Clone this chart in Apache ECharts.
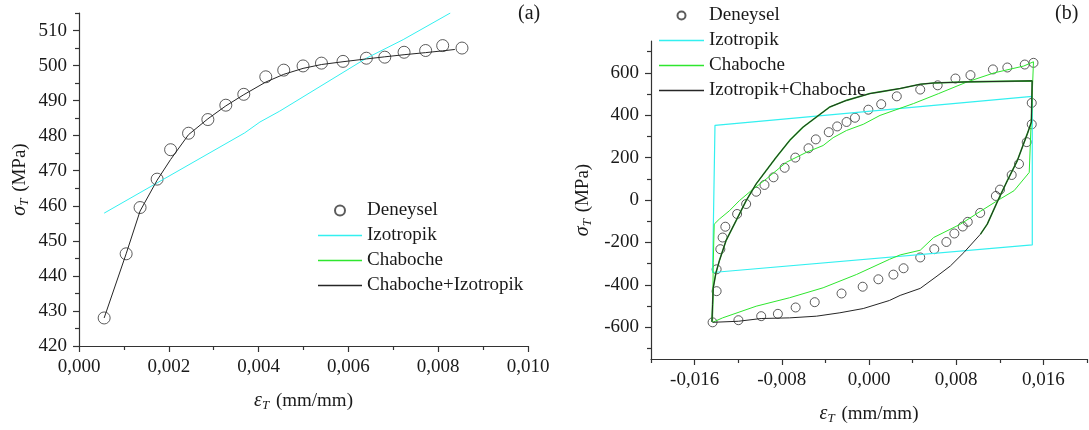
<!DOCTYPE html>
<html>
<head>
<meta charset="utf-8">
<script src="https://cdn.jsdelivr.net/npm/echarts@6/dist/echarts.min.js"></script>
<style>
  html, body { margin: 0; padding: 0; background: #fff; }
  #chart { width: 1089px; height: 430px; }
</style>
</head>
<body>
<div id="chart"></div>
<script>
// ---- (a) monotonic tension ----
const aExpStrain = [0.00056, 0.00105, 0.00136, 0.00174, 0.00204, 0.00244, 0.00287, 0.00327, 0.00367, 0.00416,
  0.00456, 0.00499, 0.0054, 0.00588, 0.0064, 0.00681, 0.00724, 0.00772, 0.0081, 0.00853];
const aExpStress = [428, 446.3, 459.5, 467.6, 476.0, 480.7, 484.6, 488.7, 491.8, 496.8,
  498.7, 499.9, 500.7, 501.2, 502.1, 502.4, 503.8, 504.3, 505.7, 505.0];

const aIsoStrain = [0.00056, 0.00369, 0.00403, 0.00447, 0.0064, 0.00722, 0.00827];
const aIsoStress = [457.9, 480.8, 483.9, 487, 502.1, 507.4, 515];

const aCombStrain = [0.00056, 0.00105, 0.00136, 0.00174, 0.00204, 0.00244, 0.00287, 0.00327, 0.00367, 0.00416,
  0.00456, 0.00499, 0.0054, 0.00588, 0.0064, 0.00681, 0.00724, 0.00772, 0.0081, 0.00837];
const aCombStress = [428, 446.3, 458.5, 467.3, 473.2, 480.3, 484.8, 488.5, 491.7, 495.3,
  497.5, 499.2, 500.3, 501.1, 501.9, 502.5, 503.1, 503.7, 504.2, 504.6];

const aXTicks = [0, 0.002, 0.004, 0.006, 0.008, 0.010];
const aXMinor = [0.001, 0.003, 0.005, 0.007, 0.009];
const aYTicks = [420, 430, 440, 450, 460, 470, 480, 490, 500, 510];
const aYMinor = [425, 435, 445, 455, 465, 475, 485, 495, 505, 515];

// ---- (b) cyclic loop ----
const bExpStrain = [-0.01435, -0.01398, -0.01398, -0.01364, -0.01343, -0.01318, -0.0121, -0.01127, -0.01035, -0.00959,
  -0.00876, -0.00774, -0.00676, -0.00555, -0.00488, -0.00369, -0.00292, -0.00206, -0.00129, -0.00006,
  0.00112, 0.00255, 0.0047, 0.0063, 0.00793, 0.00931, 0.01137, 0.01269, 0.01429, 0.01509,
  0.01493, 0.01493, 0.01447, 0.01376, 0.01309, 0.01202, 0.01164, 0.0102, 0.00906, 0.0086,
  0.00783, 0.0071, 0.00599, 0.0047, 0.00317, 0.00224, 0.00086, -0.00058, -0.00252, -0.00498,
  -0.00673, -0.00836, -0.00989, -0.01198];
const bExpStress = [-577, -430, -327, -232, -177, -126, -66, -19, 39, 71,
  107, 152, 200, 244, 286, 320, 347, 368, 388, 426,
  452, 489, 521, 541, 573, 589, 616, 625, 639, 647,
  458, 357, 273, 170, 118, 49, 19, -61, -103, -125,
  -158, -198, -232, -271, -322, -352, -374, -409, -441, -482,
  -507, -537, -548, -567];

const bIsoStrain = [-0.01435, -0.01413, 0.01498, 0.01498, -0.01435];
const bIsoStress = [-342, 352, 489, -212, -342];

const bChabStrain = [-0.01435, -0.01429, -0.0142, -0.01373, -0.01281, -0.01189, -0.01081, -0.00943, -0.00758, -0.00574,
  -0.00421, -0.00329, -0.00206, -0.00053, 0.00101, 0.00409, 0.00639, 0.009, 0.0115, 0.0142,
  0.01509, 0.0147, 0.01331, 0.01178, 0.01023, 0.00839, 0.00593, 0.0047, 0.00286, 0.00187,
  -0.00113, -0.00421, -0.00728, -0.01035, -0.01343, -0.01435];
const bChabStress = [-572, -296, -114, -90, -51, -3, 44, 99, 178, 225,
  257, 294, 328, 357, 399, 455, 502, 557, 600, 632,
  652, 130, 44, -3, -53, -114, -177, -237, -259, -280,
  -351, -414, -461, -501, -556, -577];

const bCombStrain = [-0.01435, -0.01198, -0.00989, -0.00728, -0.00482, -0.00267, -0.00053, 0.00187, 0.00286, 0.0047,
  0.00624, 0.00747, 0.0087, 0.01023, 0.01085, 0.01182, 0.01269, 0.01361, 0.01453, 0.0149,
  0.01497, 0.009, 0.00593, 0.0047, 0.00286, 0.00101, 0.00009, -0.00206, -0.00359, -0.00605,
  -0.00728, -0.00851, -0.00943, -0.01035, -0.01127, -0.01219, -0.01312, -0.01373, -0.01404, -0.01429,
  -0.01435, -0.01441];
const bCombStress = [-577, -572, -559, -556, -548, -532, -512, -474, -450, -417,
  -359, -311, -248, -161, -114, -3, 91, 186, 313, 368,
  562, 557, 552, 546, 526, 510, 502, 470, 439, 344,
  281, 202, 139, 76, -3, -97, -192, -287, -343, -414,
  -493, -575];
// the Chaboche curve runs under the combined one from this point on
const bOverlapFrom = 13;

const bXTicks = [-0.016, -0.008, 0, 0.008, 0.016];
const bXMinor = [-0.020, -0.012, -0.004, 0.004, 0.012, 0.020];
const bYTicks = [-600, -400, -200, 0, 200, 400, 600];
const bYMinor = [-700, -500, -300, -100, 100, 300, 500, 700];

const zip = (xs, ys) => xs.map((x, i) => [x, ys[i]]);

const FONT = 'Liberation Serif';
const INK = '#1a1a1a';
const AXIS = '#333';
const CYAN = '#33f0f0';
const GREEN = '#2ee62e';
const BLACK = '#262626';
const LINE_ICON = 'path://M0,0H44V1.6H0Z';

const comma = v => v.toFixed(3).replace('.', ',');

const nameRich = {
  g: { fontFamily: FONT, fontStyle: 'italic', fontSize: 20, color: INK },
  s: { fontFamily: FONT, fontStyle: 'italic', fontSize: 13, color: INK, verticalAlign: 'bottom', padding: [9, 2, 0, 0] },
  t: { fontFamily: FONT, fontSize: 19, color: INK }
};

function mainAxis(grid, min, max, ticks, fmt, pos, extra) {
  return Object.assign({
    type: 'value', gridIndex: grid, min: min, max: max, position: pos,
    nameMoveOverlap: false,
    axisLine: { show: true, onZero: false, lineStyle: { color: AXIS, width: 1.2 } },
    axisTick: { show: true, length: 6, customValues: ticks, lineStyle: { color: AXIS, width: 1.2 } },
    axisLabel: { customValues: ticks, formatter: fmt, fontFamily: FONT, fontSize: 19, color: INK, margin: 12 },
    splitLine: { show: false }
  }, extra);
}

function minorAxis(grid, min, max, ticks, pos) {
  return {
    type: 'value', gridIndex: grid, min: min, max: max, position: pos,
    axisLine: { show: false, onZero: false },
    axisTick: { show: true, length: 4, customValues: ticks, lineStyle: { color: AXIS, width: 1.2 } },
    axisLabel: { show: false },
    splitLine: { show: false }
  };
}

function legendItems(names) {
  return names.map((n, i) => i === 0 ? { name: n } : { name: n, icon: LINE_ICON });
}

const chart = echarts.init(document.getElementById('chart'));

const option = {
  animation: false,
  backgroundColor: '#fff',
  grid: [
    { left: 79, top: 13, width: 449, height: 333, containLabel: false, outerBoundsMode: 'none' },
    { left: 651, top: 41, width: 436, height: 318, containLabel: false, outerBoundsMode: 'none' }
  ],
  xAxis: [
    mainAxis(0, 0, 0.010, aXTicks, comma, 'bottom', {
      name: '{g|ε}{s|T}{t| (mm/mm)}', nameLocation: 'middle', nameGap: 44,
      nameTextStyle: { rich: nameRich }
    }),
    minorAxis(0, 0, 0.010, aXMinor, 'bottom'),
    mainAxis(1, -0.020, 0.020, bXTicks, comma, 'bottom', {
      name: '{g|ε}{s|T}{t| (mm/mm)}', nameLocation: 'middle', nameGap: 44,
      nameTextStyle: { rich: nameRich }
    }),
    minorAxis(1, -0.020, 0.020, bXMinor, 'bottom')
  ],
  yAxis: [
    mainAxis(0, 420, 515, aYTicks, v => String(v), 'left', {
      name: '{g|σ}{s|T}{t| (MPa)}', nameLocation: 'middle', nameGap: 48, nameRotate: 90,
      nameTextStyle: { rich: nameRich }
    }),
    minorAxis(0, 420, 515, aYMinor, 'left'),
    mainAxis(1, -750, 750, bYTicks, v => String(v), 'left', {
      name: '{g|σ}{s|T}{t| (MPa)}', nameLocation: 'middle', nameGap: 57, nameRotate: 90,
      nameTextStyle: { rich: nameRich }
    }),
    minorAxis(1, -750, 750, bYMinor, 'left')
  ],
  legend: [
    {
      orient: 'vertical', left: 313, top: 196, itemWidth: 44, itemHeight: 10, itemGap: 6,
      data: legendItems(['Deneysel', 'Izotropik', 'Chaboche', 'Chaboche+Izotropik']),
      textStyle: { fontFamily: FONT, fontSize: 19, color: INK }
    },
    {
      orient: 'vertical', left: 654, top: 1, itemWidth: 45, itemHeight: 8, itemGap: 6,
      data: legendItems(['Deneysel', 'Izotropik', 'Chaboche', 'Izotropik+Chaboche']),
      textStyle: { fontFamily: FONT, fontSize: 19, color: INK }
    }
  ],
  graphic: [
    { type: 'text', left: 518, top: 4, style: { text: '(a)', font: '20px "Liberation Serif"', fill: INK } },
    { type: 'text', left: 1055, top: 4, style: { text: '(b)', font: '20px "Liberation Serif"', fill: INK } }
  ],
  series: [
    // (a)
    { name: 'Izotropik', type: 'line', xAxisIndex: 0, yAxisIndex: 0, symbol: 'none',
      data: zip(aIsoStrain, aIsoStress), lineStyle: { color: CYAN, width: 1 }, itemStyle: { color: CYAN } },
    { name: 'Chaboche+Izotropik', type: 'line', xAxisIndex: 0, yAxisIndex: 0, symbol: 'none',
      data: zip(aCombStrain, aCombStress), lineStyle: { color: BLACK, width: 1 }, itemStyle: { color: BLACK } },
    { name: 'Deneysel', type: 'scatter', xAxisIndex: 0, yAxisIndex: 0, symbol: 'circle', symbolSize: 12,
      data: zip(aExpStrain, aExpStress),
      itemStyle: { color: 'none', borderColor: '#333', borderWidth: 1 } },
    // (b)
    { name: 'Izotropik', type: 'line', xAxisIndex: 2, yAxisIndex: 2, symbol: 'none',
      data: zip(bIsoStrain, bIsoStress), lineStyle: { color: CYAN, width: 1.2 }, itemStyle: { color: CYAN } },
    { name: 'Chaboche', type: 'line', xAxisIndex: 2, yAxisIndex: 2, symbol: 'none',
      data: zip(bChabStrain, bChabStress), lineStyle: { color: GREEN, width: 1 }, itemStyle: { color: GREEN } },
    { name: 'Chaboche', type: 'line', xAxisIndex: 2, yAxisIndex: 2, symbol: 'none',
      data: zip(bCombStrain, bCombStress).slice(bOverlapFrom),
      lineStyle: { color: '#2bbf2b', width: 1.6 }, itemStyle: { color: GREEN } },
    { name: 'Izotropik+Chaboche', type: 'line', xAxisIndex: 2, yAxisIndex: 2, symbol: 'none',
      data: zip(bCombStrain, bCombStress), lineStyle: { color: BLACK, width: 1 }, itemStyle: { color: BLACK } },
    { name: 'Deneysel', type: 'scatter', xAxisIndex: 2, yAxisIndex: 2, symbol: 'circle', symbolSize: 9,
      data: zip(bExpStrain, bExpStress),
      itemStyle: { color: 'none', borderColor: '#333', borderWidth: 1 } }
  ]
};

chart.setOption(option);
</script>
</body>
</html>
